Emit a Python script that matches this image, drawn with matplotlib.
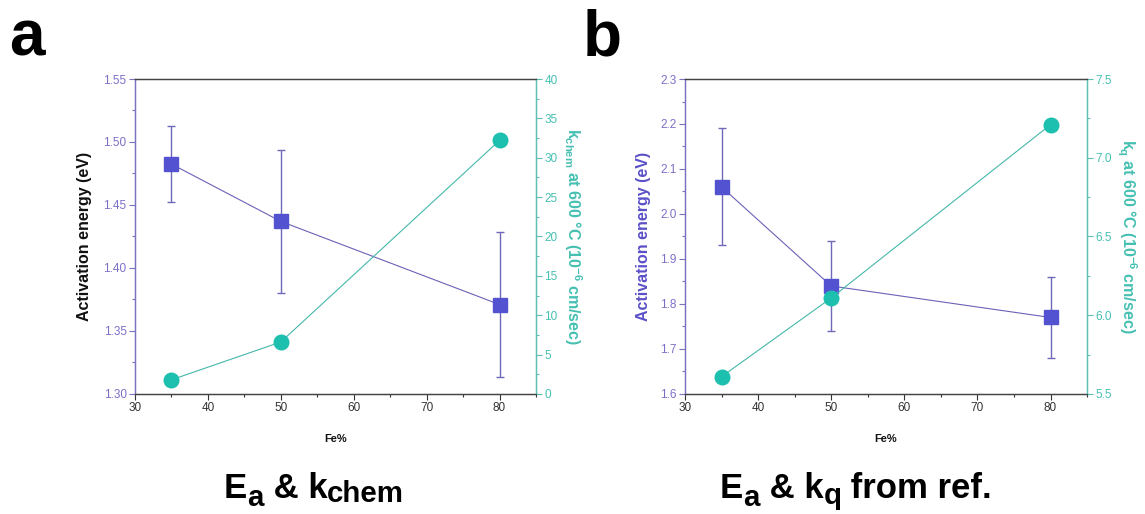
import matplotlib
matplotlib.use("Agg")
import matplotlib.pyplot as plt
from matplotlib import font_manager
from matplotlib.ticker import MultipleLocator

plt.rcParams['font.family'] = ['Liberation Sans', 'DejaVu Sans']
plt.rcParams['mathtext.fontset'] = 'custom'
plt.rcParams['mathtext.rm'] = 'Liberation Sans:bold'
plt.rcParams['mathtext.it'] = 'Liberation Sans:bold'
plt.rcParams['mathtext.bf'] = 'Liberation Sans:bold'

try:
    font_manager.findfont(font_manager.FontProperties(family='Liberation Sans Narrow',
                                                      weight='bold'),
                          fallback_to_default=False)
    TITLE_FAMILY = 'Liberation Sans Narrow'
    TITLE_SIZE = 29
except Exception:
    TITLE_FAMILY = 'Liberation Sans'
    TITLE_SIZE = 25

# ---------------- data ----------------
fe_pct = [35, 50, 80]

# panel a
ea_a = [1.4825, 1.437, 1.371]
ea_a_err = [0.030, 0.0565, 0.0575]
kchem = [1.8, 6.6, 32.2]

# panel b
ea_b = [2.06, 1.84, 1.77]
ea_b_err = [0.13, 0.10, 0.09]
kq = [5.61, 6.11, 7.21]

x_ticks = [30, 40, 50, 60, 70, 80]
a_left_ticks = [1.30, 1.35, 1.40, 1.45, 1.50, 1.55]
a_right_ticks = [0, 5, 10, 15, 20, 25, 30, 35, 40]
b_left_ticks = [1.6, 1.7, 1.8, 1.9, 2.0, 2.1, 2.2, 2.3]
b_right_ticks = [5.5, 6.0, 6.5, 7.0, 7.5]

# ---------------- style ----------------
SQ_FILL = '#5353D2'
SQ_LINE = '#6A62B8'
ERR_COL = '#7068B8'
CI_FILL = '#1DBFAE'
CI_LINE = '#45B8AA'
PURPLE_TXT = '#7B70C8'
TEAL_TXT = '#45C0B2'
PURPLE_SPINE = '#7A72C0'
TEAL_SPINE = '#5CC0B5'
DARK = '#333333'

fig = plt.figure(figsize=(11.45, 5.14), dpi=100)


def panel(rect, ea, ea_err, k, left_ticks, left_fmt, left_minor,
          right_ticks, right_fmt, right_minor, left_label_color, right_label,
          left_pad, right_pad):
    ax = fig.add_axes(rect)
    ax2 = ax.twinx()
    ax.errorbar(fe_pct, ea, yerr=ea_err, color=SQ_LINE, lw=0.8,
                ecolor=ERR_COL, elinewidth=1.0, capsize=2.8, capthick=1.0,
                marker='s', ms=9.5, mfc=SQ_FILL, mec=SQ_FILL, zorder=3)
    ax2.plot(fe_pct, k, color=CI_LINE, lw=0.8, marker='o', ms=10.5,
             mfc=CI_FILL, mec=CI_FILL, zorder=3)

    ax.set_xlim(30, 85)
    ax.set_xticks(x_ticks)
    ax.xaxis.set_minor_locator(MultipleLocator(5))
    ax.set_ylim(left_ticks[0], left_ticks[-1])
    ax.set_yticks(left_ticks)
    ax.set_yticklabels([left_fmt.format(v) for v in left_ticks])
    ax.yaxis.set_minor_locator(MultipleLocator(left_minor))
    ax2.set_ylim(right_ticks[0], right_ticks[-1])
    ax2.set_yticks(right_ticks)
    ax2.set_yticklabels([right_fmt.format(v) for v in right_ticks])
    ax2.yaxis.set_minor_locator(MultipleLocator(right_minor))

    ax.tick_params(axis='x', which='major', direction='out', length=4,
                   width=0.8, colors=DARK, labelsize=8.5, pad=2)
    ax.tick_params(axis='x', which='minor', direction='out', length=2.2,
                   width=0.8, colors=DARK)
    ax.tick_params(axis='y', which='major', direction='out', length=4,
                   width=0.8, colors=PURPLE_SPINE, labelcolor=PURPLE_TXT,
                   labelsize=8.5, pad=2)
    ax.tick_params(axis='y', which='minor', direction='out', length=2.2,
                   width=0.8, colors=PURPLE_SPINE)
    ax2.tick_params(axis='y', which='major', direction='out', length=4,
                    width=0.8, colors=TEAL_SPINE, labelcolor=TEAL_TXT,
                    labelsize=8.5, pad=2)
    ax2.tick_params(axis='y', which='minor', direction='out', length=2.2,
                    width=0.8, colors=TEAL_SPINE)

    for a in (ax, ax2):
        a.spines['left'].set_color(PURPLE_SPINE)
        a.spines['right'].set_color(TEAL_SPINE)
        a.spines['top'].set_color('#444444')
        a.spines['bottom'].set_color('#444444')
        for s in a.spines.values():
            s.set_linewidth(0.9)

    ax.set_xlabel('Fe%', fontsize=8, fontweight='bold', color='#111111',
                  labelpad=14)
    ax.set_ylabel('Activation energy (eV)', fontsize=11.5, fontweight='bold',
                  color=left_label_color, labelpad=left_pad)
    ax2.set_ylabel(right_label, fontsize=11.5, fontweight='bold',
                   color=TEAL_TXT, rotation=270, labelpad=right_pad)
    return ax, ax2


axA, axA2 = panel([0.1179, 0.2335, 0.3502, 0.6128], ea_a, ea_a_err, kchem,
                  a_left_ticks, '{:.2f}', 0.025,
                  a_right_ticks, '{:d}', 2.5, '#111111',
                  r'$k_{chem}$ at 600 °C (10$^{-6}$ cm/sec)', 8, 19)
axB, axB2 = panel([0.5983, 0.2335, 0.3511, 0.6128], ea_b, ea_b_err, kq,
                  b_left_ticks, '{:.1f}', 0.05,
                  b_right_ticks, '{:.1f}', 0.25, '#5B50C8',
                  r'$k_q$ at 600 °C (10$^{-6}$ cm/sec)', 6.5, 19)

fig.text(9 / 1145, 1 - 55 / 514, 'a', fontsize=46, fontweight='bold',
         ha='left', va='baseline')
fig.text(583 / 1145, 1 - 55 / 514, 'b', fontsize=46, fontweight='bold',
         ha='left', va='baseline')


# ---- titles with large, lowered subscripts (built from text pieces) ----
renderer = fig.canvas.get_renderer()


def rich_title(cx_px, base_px, pieces):
    """pieces: list of (text, size_scale, drop_px)"""
    objs = []
    widths = []
    for txt, scale, drop in pieces:
        t = fig.text(0, 0, txt, fontsize=TITLE_SIZE * scale, fontweight='bold',
                     family=TITLE_FAMILY, ha='left', va='baseline')
        t.set_text(txt.replace(' ', '\u00a0'))
        w = t.get_window_extent(renderer).width
        objs.append((t, drop))
        widths.append(w)
    total = sum(widths)
    x = cx_px - total / 2
    for (t, drop), w in zip(objs, widths):
        t.set_position((x / 1145, 1 - (base_px + drop) / 514))
        x += w


rich_title(314, 498, [('E', 1.0, 0), ('a', 0.85, 8), (' & k', 1.0, 0),
                      ('chem', 0.85, 4)])
rich_title(856, 498, [('E', 1.0, 0), ('a', 0.85, 8), (' & k', 1.0, 0),
                      ('q', 0.85, 6), (' from ref.', 1.0, 0)])

fig.savefig('out.png', dpi=100)
